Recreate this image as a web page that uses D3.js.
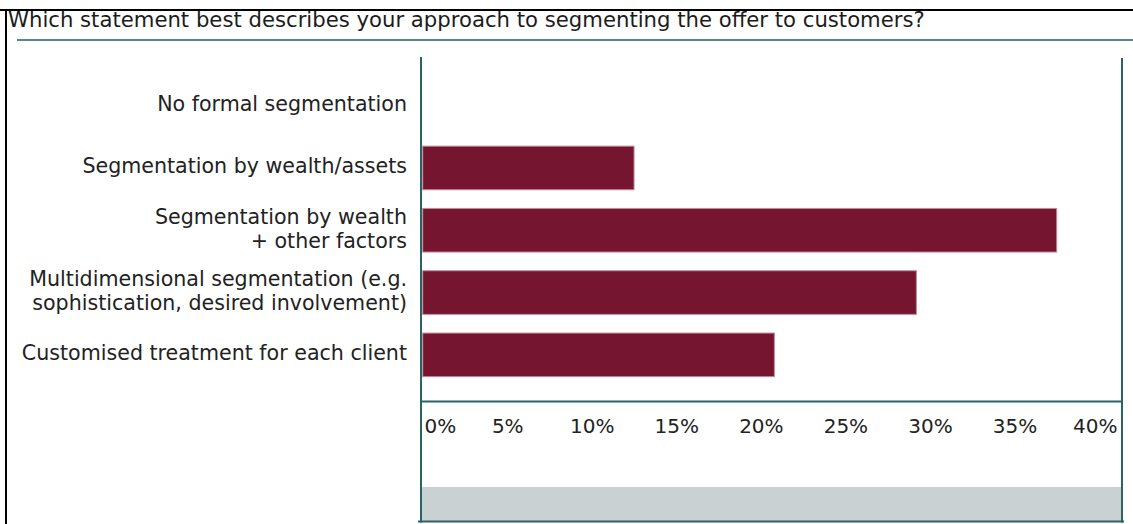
<!DOCTYPE html>
<html><head><meta charset="utf-8">
<script src="https://cdn.jsdelivr.net/npm/d3@7"></script>
<style>body{margin:0;background:#fff;overflow:hidden} svg{display:block} text{font-family:"DejaVu Sans",sans-serif;}</style>
</head><body><svg id="c" width="1133" height="524"></svg>
<script>
const title = "Which statement best describes your approach to segmenting the offer to customers?";
const categories = [
  "No formal segmentation",
  "Segmentation by wealth/assets",
  "Segmentation by wealth\n+ other factors",
  "Multidimensional segmentation (e.g.\nsophistication, desired involvement)",
  "Customised treatment for each client"
];
const values = [0, 12.5, 37.5, 29.2, 20.8];
const tickValues = [0, 5, 10, 15, 20, 25, 30, 35, 40];
const tickLabels = ["0%", "5%", "10%", "15%", "20%", "25%", "30%", "35%", "40%"];

const svg = d3.select("#c");
const frame = {left: 421, right: 1122, top: 57, axis: 401.5, band: 487, bottom: 521.5};
const barColor = "#76152f", frameColor = "#2b6464", ruleColor = "#55898a", bandColor = "#c9d1d3";
const labelSize = 20.6, titleSize = 21.2, tickSize = 20;

const x = d3.scaleLinear().domain([0, 40]).range([422.7, 1099]);
const y = d3.scaleBand().domain(categories).range([74.5, 386]).paddingInner(0.3).paddingOuter(0.15);

// outer border
svg.append("line").attr("x1", 0).attr("x2", 1133).attr("y1", 10).attr("y2", 10).attr("stroke", "#000").attr("stroke-width", 2);
svg.append("line").attr("x1", 6).attr("x2", 6).attr("y1", 9).attr("y2", 524).attr("stroke", "#000").attr("stroke-width", 2);

// title + rule
svg.append("text").attr("x", 8).attr("y", 26.5).attr("font-size", titleSize).attr("fill", "#1c1c1c").text(title);
svg.append("line").attr("x1", 17).attr("x2", 1133).attr("y1", 40).attr("y2", 40).attr("stroke", ruleColor).attr("stroke-width", 2);

// grey band
svg.append("rect").attr("x", frame.left).attr("y", frame.band).attr("width", frame.right - frame.left).attr("height", frame.bottom - frame.band).attr("fill", bandColor);

// bars
svg.append("g").selectAll("rect").data(values.map((v, i) => ({c: categories[i], v})).filter(d => d.v > 0)).join("rect")
  .attr("x", x(0)).attr("y", d => y(d.c)).attr("width", d => x(d.v) - x(0)).attr("height", y.bandwidth())
  .attr("fill", barColor).attr("stroke", "#c08c9b").attr("stroke-width", 1);

// category labels (each line its own text)
const lg = svg.append("g").attr("text-anchor", "end").attr("font-size", labelSize).attr("fill", "#222");
categories.forEach(c => {
  const lines = c.split("\n");
  const cy = y(c) + y.bandwidth() / 2;
  const lh = 24;
  lines.forEach((ln, i) => {
    lg.append("text").attr("x", 407).attr("y", cy + 5.5 + (i - (lines.length - 1) / 2) * lh).text(ln);
  });
});

// frame lines
const fr = svg.append("g").attr("stroke", frameColor).attr("stroke-width", 2);
fr.append("line").attr("x1", frame.left).attr("x2", frame.left).attr("y1", frame.top).attr("y2", frame.bottom + 1);
fr.append("line").attr("x1", frame.right).attr("x2", frame.right).attr("y1", frame.top + 1).attr("y2", frame.bottom + 1);
fr.append("line").attr("x1", frame.left).attr("x2", frame.right).attr("y1", frame.axis).attr("y2", frame.axis);
fr.append("line").attr("x1", frame.left - 3).attr("x2", frame.right + 2).attr("y1", frame.bottom).attr("y2", frame.bottom);

// x axis labels
const ax = svg.append("g").attr("transform", `translate(0,${frame.axis})`)
  .call(d3.axisBottom(x).tickValues(tickValues).tickFormat((d, i) => tickLabels[i]).tickSize(0));
ax.select(".domain").remove();
ax.selectAll("text").attr("font-size", tickSize).attr("font-family", "'DejaVu Sans',sans-serif").attr("fill", "#222")
  .attr("y", 31.5).attr("dy", 0);
ax.selectAll(".tick").filter(d => d === 0).select("text").attr("text-anchor", "start").attr("x", frame.left + 3 - x(0));
ax.selectAll(".tick").filter(d => d === 40).select("text").attr("text-anchor", "end").attr("x", frame.right - 5 - x(40));
</script></body></html>
